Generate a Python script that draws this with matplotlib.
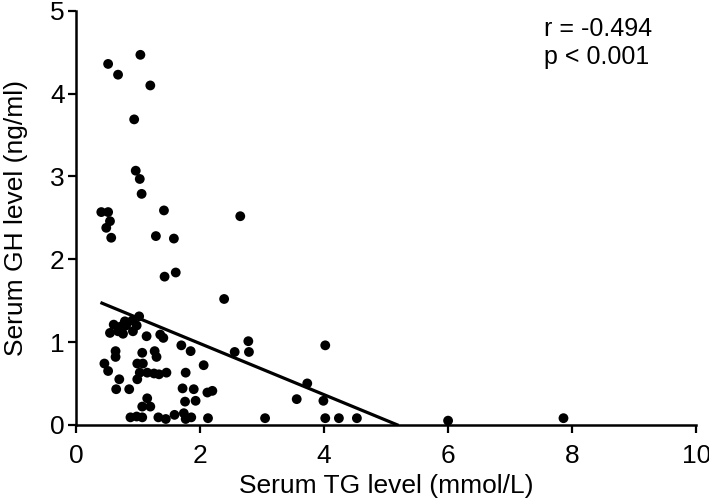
import matplotlib
matplotlib.use("Agg")
import matplotlib.pyplot as plt
import numpy as np

# Data
tg = [0.52, 0.68, 1.04, 1.20, 0.94, 0.965, 1.03, 1.06,
      0.41, 0.52, 0.55, 0.49, 0.57, 1.42, 1.29, 1.58, 2.65, 1.43, 1.61, 2.39,
      2.78, 2.56, 2.79, 2.06,
      2.12, 2.20, 2.13, 3.05, 4.02, 3.73, 3.56, 3.99, 4.02, 4.24, 4.53, 6.0, 7.86,
      1.02, 0.91, 0.79, 0.61, 0.73, 0.81, 0.98, 0.55, 0.68, 0.76, 0.92, 1.14, 1.36, 1.41,
      0.64, 0.64, 0.46, 1.07, 1.27, 1.30, 1.70, 1.85,
      0.52, 0.70, 0.99, 1.08, 0.99, 1.03, 1.15, 1.26, 1.34, 1.46, 1.77,
      0.65, 0.86, 1.72, 1.90, 1.76, 1.93, 1.15, 1.07, 1.20,
      0.88, 0.98, 1.07, 1.33, 1.45, 1.59, 1.74, 1.77, 1.86]
gh = [4.36, 4.23, 4.47, 4.10, 3.69, 3.07, 2.97, 2.79,
      2.57, 2.57, 2.46, 2.38, 2.26, 2.59, 2.28, 2.25, 2.52, 1.79, 1.84, 1.52,
      1.01, 0.88, 0.88, 0.72,
      0.39, 0.41, 0.08, 0.08, 0.96, 0.50, 0.31, 0.29, 0.08, 0.08, 0.08, 0.05, 0.08,
      1.31, 1.26, 1.25, 1.21, 1.19, 1.20, 1.20, 1.11, 1.13, 1.10, 1.13, 1.07, 1.09, 1.05,
      0.89, 0.82, 0.74, 0.87, 0.89, 0.82, 0.96, 0.89,
      0.65, 0.55, 0.74, 0.74, 0.55, 0.63, 0.63, 0.62, 0.61, 0.63, 0.63,
      0.43, 0.43, 0.44, 0.43, 0.28, 0.29, 0.32, 0.22, 0.22,
      0.09, 0.10, 0.09, 0.09, 0.07, 0.12, 0.14, 0.07, 0.09]

fit_intercept = 1.60
fit_slope = -0.309
fit_x_start = 0.42

x_ticks = [0, 2, 4, 6, 8, 10]
y_ticks = [0, 1, 2, 3, 4, 5]
stats_text = "r = -0.494\np < 0.001"

plt.rcParams['font.family'] = ['Liberation Sans', 'DejaVu Sans']

fig = plt.figure(figsize=(7.09, 4.98), dpi=100)
ax = fig.add_axes([0.107, 0.147, 0.875, 0.831])

ax.scatter(tg, gh, s=50, color='black', edgecolors='none', zorder=3, clip_on=False)

x_end = -fit_intercept / fit_slope
xs = np.array([fit_x_start, x_end])
ax.plot(xs, fit_intercept + fit_slope * xs, color='black', lw=2.3, zorder=2)

ax.set_xlim(0, 10)
ax.set_ylim(0, 5)
ax.set_xticks(x_ticks)
ax.set_yticks(y_ticks)
ax.tick_params(axis='both', labelsize=19, width=1.6, length=6, direction='out')
ax.tick_params(axis='x', pad=8)
ax.tick_params(axis='y', pad=2)
for s in ['top', 'right']:
    ax.spines[s].set_visible(False)
for s in ['left', 'bottom']:
    ax.spines[s].set_linewidth(1.8)

ax.set_xlabel("Serum TG level (mmol/L)", fontsize=19, labelpad=4)
ax.set_ylabel("Serum GH level (ng/ml)", fontsize=19, labelpad=16)

ax.text(0.754, 0.985, stats_text, transform=ax.transAxes, fontsize=18,
        ha='left', va='top', linespacing=1.2)

fig.savefig("out.png", dpi=100)
